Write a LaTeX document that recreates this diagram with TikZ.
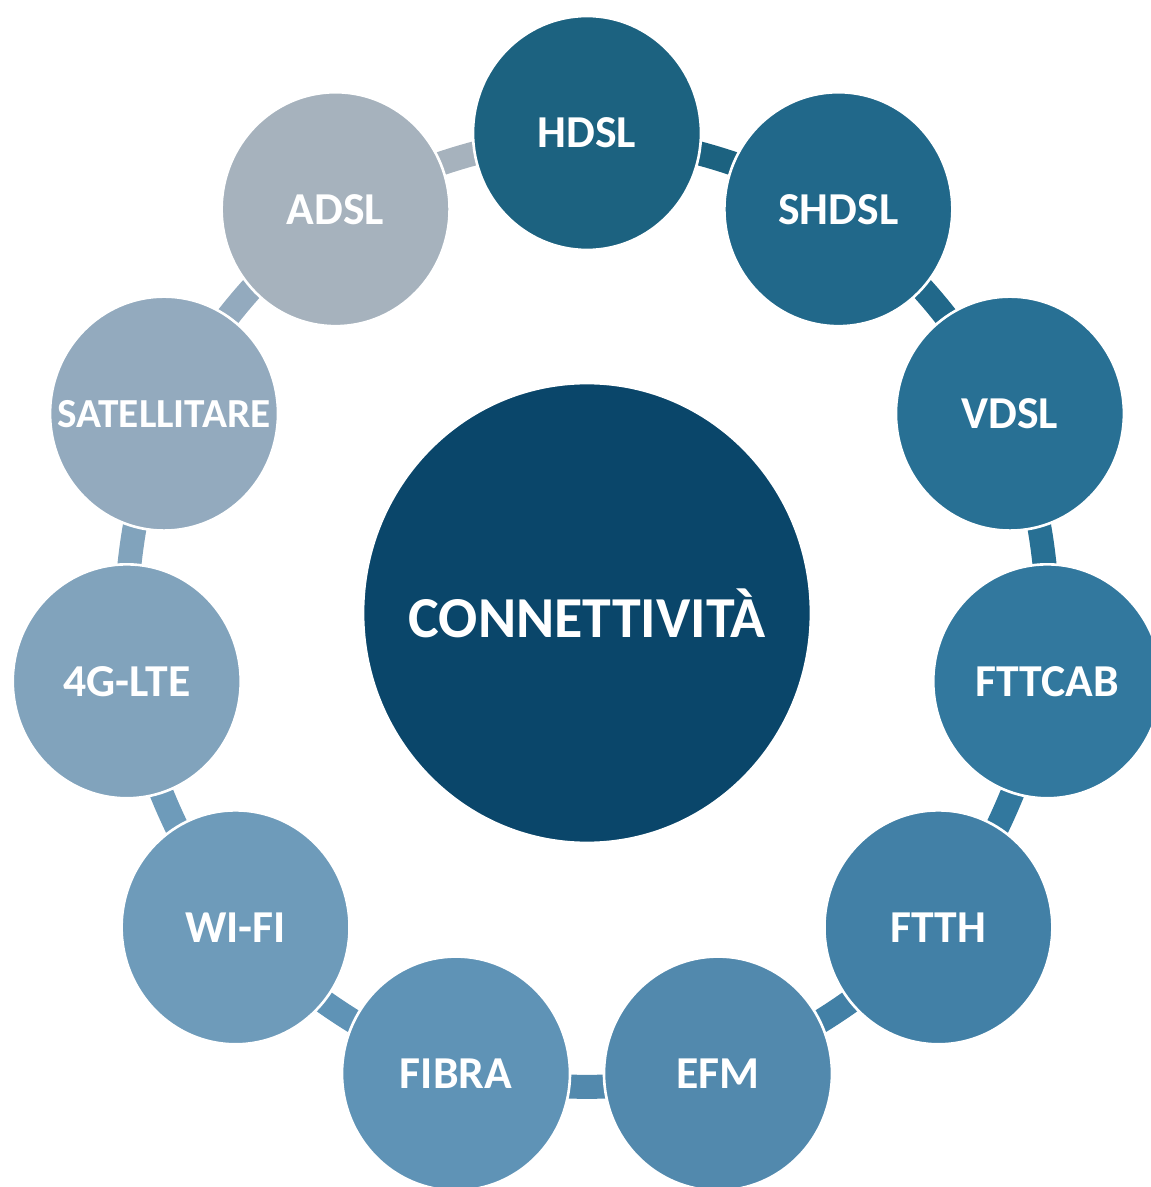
\documentclass[tikz,border=0pt]{standalone}
\usepackage{fontspec}
\setmainfont{Carlito}
\usetikzlibrary{shapes.geometric,backgrounds}
\definecolor{hub}{RGB}{10,70,106}
\definecolor{c0}{RGB}{28,98,128}
\definecolor{c1}{RGB}{33,104,138}
\definecolor{c2}{RGB}{40,112,148}
\definecolor{c3}{RGB}{50,120,158}
\definecolor{c4}{RGB}{66,128,166}
\definecolor{c5}{RGB}{82,137,173}
\definecolor{c6}{RGB}{95,147,182}
\definecolor{c7}{RGB}{110,155,186}
\definecolor{c8}{RGB}{129,163,188}
\definecolor{c9}{RGB}{147,170,190}
\definecolor{c10}{RGB}{166,178,189}
\tikzset{bubble/.style={ellipse,inner sep=0pt,draw=white,line width=1.5pt,minimum width=4.56cm,minimum height=4.68cm}}
\tikzset{caption/.style={text=white,inner sep=0pt,font=\bfseries\fontsize{#1}{#1}\selectfont}}
\tikzset{link/.style={line width=0.48cm}}

\begin{document}
\begin{tikzpicture}[x=0.02cm,y=0.02cm]
		\useasboundingbox (-587,-574) rectangle (564,613);
		\node[bubble,fill=hub,minimum width=8.96cm,minimum height=9.2cm,label={[caption=33]center:CONNETTIVITÀ}] (hub) at (0,0) {};
		\foreach \i/\descr/\fs in {0/HDSL/26,1/SHDSL/26,2/VDSL/26,3/FTTCAB/26,4/FTTH/26,5/EFM/26,6/FIBRA/26,7/WI-FI/26,8/4G-LTE/26,9/SATELLITARE/23.5,10/ADSL/26}
		{
			\node[bubble,fill=c\i,label={[caption=\fs]center:\descr}] (n\i) at ({465*cos(90-\i*360/11)},{480*sin(90-\i*360/11)}) {};
		}
		\begin{scope}[on background layer]
		\foreach \i/\j in {0/1,1/2,2/3,3/4,4/5,5/6,6/7,7/8,8/9,9/10,10/0}
			\draw[link,c\i] (n\i.center) to[bend left=10] (n\j.center);
		\end{scope}
\end{tikzpicture}
\end{document}
